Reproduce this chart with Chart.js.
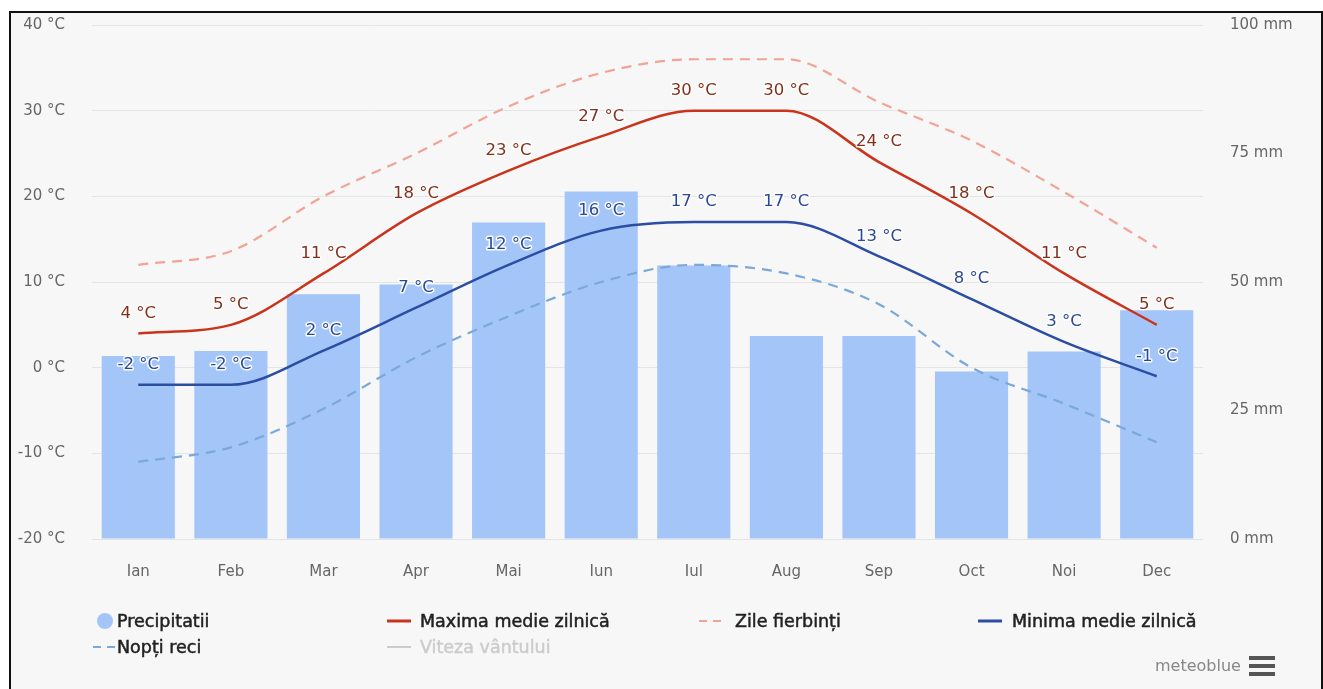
<!DOCTYPE html>
<html><head><meta charset="utf-8">
<script src="https://cdn.jsdelivr.net/npm/chart.js@4.4.0/dist/chart.umd.min.js"></script>
<style>
html,body{margin:0;padding:0;background:#fff;width:1323px;height:689px;overflow:hidden;font-family:"DejaVu Sans",sans-serif;}
#frame{position:absolute;left:9px;top:11px;width:1310px;height:680px;border-left:2px solid #111;border-top:2px solid #111;border-right:2px solid #111;background:#f7f7f7;}
#wrap{position:absolute;left:0;top:-11px;width:1323px;height:611px;}
.lg{position:absolute;font-size:17.5px;font-weight:normal;color:#222;white-space:nowrap;line-height:20px;-webkit-text-stroke:0.5px #222;}
#brand{position:absolute;left:1155px;top:656px;font-size:16px;color:#888;}
.hb{position:absolute;left:1249px;width:26px;height:4px;background:#555;}
</style></head>
<body>
<div id="frame"></div>
<div id="wrap"><canvas id="c"></canvas></div>

<svg width="1323" height="689" style="position:absolute;left:0;top:0;pointer-events:none">
  <circle cx="105" cy="621" r="8" fill="#a4c5f8"/>
  <line x1="387" y1="621" x2="411" y2="621" stroke="#c9341c" stroke-width="3"/>
  <line x1="699" y1="621" x2="723" y2="621" stroke="#f1a394" stroke-width="2" stroke-dasharray="8,6"/>
  <line x1="978" y1="621" x2="1002" y2="621" stroke="#2b4ea3" stroke-width="3"/>
  <line x1="93" y1="647" x2="117" y2="647" stroke="#7aa9d8" stroke-width="2" stroke-dasharray="8,6"/>
  <line x1="387" y1="647" x2="411" y2="647" stroke="#cccccc" stroke-width="2"/>
</svg>
<div class="lg" style="left:117px;top:611px;">Precipitatii</div>
<div class="lg" style="left:420px;top:611px;">Maxima medie zilnică</div>
<div class="lg" style="left:735px;top:611px;">Zile fierbinți</div>
<div class="lg" style="left:1012px;top:611px;">Minima medie zilnică</div>
<div class="lg" style="left:117px;top:637px;">Nopți reci</div>
<div class="lg" style="left:420px;top:637px;color:#ccc;-webkit-text-stroke:0.5px #ccc;">Viteza vântului</div>
<div id="brand">meteoblue</div>
<div class="hb" style="top:656px"></div>
<div class="hb" style="top:664px"></div>
<div class="hb" style="top:672px"></div>

<script>
const months = ["Ian","Feb","Mar","Apr","Mai","Iun","Iul","Aug","Sep","Oct","Noi","Dec"];
const precipitation = [35.6, 36.6, 47.6, 49.5, 61.6, 67.6, 53.2, 39.5, 39.5, 32.6, 36.5, 44.5];
const maxTemp = [4, 5, 11, 18, 23, 27, 30, 30, 24, 18, 11, 5];
const hotDays = [12, 13.6, 20, 25, 30.5, 34.4, 36, 36, 31, 26.5, 20.5, 14];
const minTemp = [-2, -2, 2, 7, 12, 16, 17, 17, 13, 8, 3, -1];
const coldNights = [-11, -9.3, -4.8, 1.2, 6, 10, 12, 11, 7.4, 0, -4.2, -8.7];
const tempTicks = [-20, -10, 0, 10, 20, 30, 40];
const precTicks = [0, 25, 50, 75, 100];

const FONT = '"DejaVu Sans", sans-serif';

const labelPlugin = {
  id: 'dl',
  afterDatasetsDraw(chart) {
    const ctx = chart.ctx;
    chart.data.datasets.forEach((ds, i) => {
      if (!ds.labelColor) return;
      const meta = chart.getDatasetMeta(i);
      ctx.save();
      ctx.font = '16.5px ' + FONT;
      ctx.textAlign = 'center';
      ctx.textBaseline = 'middle';
      ctx.lineJoin = 'round';
      meta.data.forEach((el, j) => {
        const t = ds.data[j] + ' °C';
        const x = el.x, y = el.y - 20;
        ctx.lineWidth = 3;
        ctx.strokeStyle = 'rgba(255,255,255,0.95)';
        ctx.strokeText(t, x, y);
        ctx.fillStyle = ds.labelColor;
        ctx.fillText(t, x, y);
      });
      ctx.restore();
    });
  }
};

new Chart(document.getElementById('c'), {
  data: {
    labels: months,
    datasets: [
      { type: 'line', label: 'Maxima medie zilnică', data: maxTemp, yAxisID: 'y',
        borderColor: '#c9341c', borderWidth: 2.5, pointRadius: 0, cubicInterpolationMode: 'monotone',
        labelColor: '#82301a', order: 1 },
      { type: 'line', label: 'Zile fierbinți', data: hotDays, yAxisID: 'y',
        borderColor: '#f1a394', borderWidth: 2.2, borderDash: [10, 7], pointRadius: 0, cubicInterpolationMode: 'monotone', order: 3 },
      { type: 'line', label: 'Minima medie zilnică', data: minTemp, yAxisID: 'y',
        borderColor: '#2b4ea3', borderWidth: 2.5, pointRadius: 0, cubicInterpolationMode: 'monotone',
        labelColor: '#2a4896', order: 2 },
      { type: 'line', label: 'Nopți reci', data: coldNights, yAxisID: 'y',
        borderColor: '#7aa9d8', borderWidth: 2.2, borderDash: [10, 7], pointRadius: 0, cubicInterpolationMode: 'monotone', order: 4 },
      { type: 'bar', label: 'Precipitatii', data: precipitation, yAxisID: 'y2',
        backgroundColor: '#a4c5f8', categoryPercentage: 1, barPercentage: 0.79, order: 10 }
    ]
  },
  options: {
    responsive: true, maintainAspectRatio: false, animation: false,
    layout: { padding: { top: 13, bottom: 0, left: 0, right: 0 } },
    plugins: { legend: { display: false }, tooltip: { enabled: false } },
    scales: {
      x: {
        grid: { display: false }, border: { display: false },
        ticks: { color: '#666', font: { family: FONT, size: 15 }, padding: 16 },
        afterFit(s) { s.height = 61; }
      },
      y: {
        position: 'left', min: -20, max: 40,
        afterBuildTicks(s) { s.ticks = tempTicks.map(v => ({ value: v })); },
        grid: { color: '#e4e4e4', drawTicks: false }, border: { display: false },
        ticks: { color: '#666', font: { family: FONT, size: 15 }, padding: 27, callback: v => v + ' °C' },
        afterFit(s) { s.width = 92; }
      },
      y2: {
        position: 'right', min: 0, max: 100,
        afterBuildTicks(s) { s.ticks = precTicks.map(v => ({ value: v })); },
        grid: { drawOnChartArea: false, drawTicks: false }, border: { display: false },
        ticks: { color: '#666', font: { family: FONT, size: 15 }, padding: 27, callback: v => v + ' mm' },
        afterFit(s) { s.width = 120; }
      }
    }
  },
  plugins: [labelPlugin]
});
</script>
</body></html>
